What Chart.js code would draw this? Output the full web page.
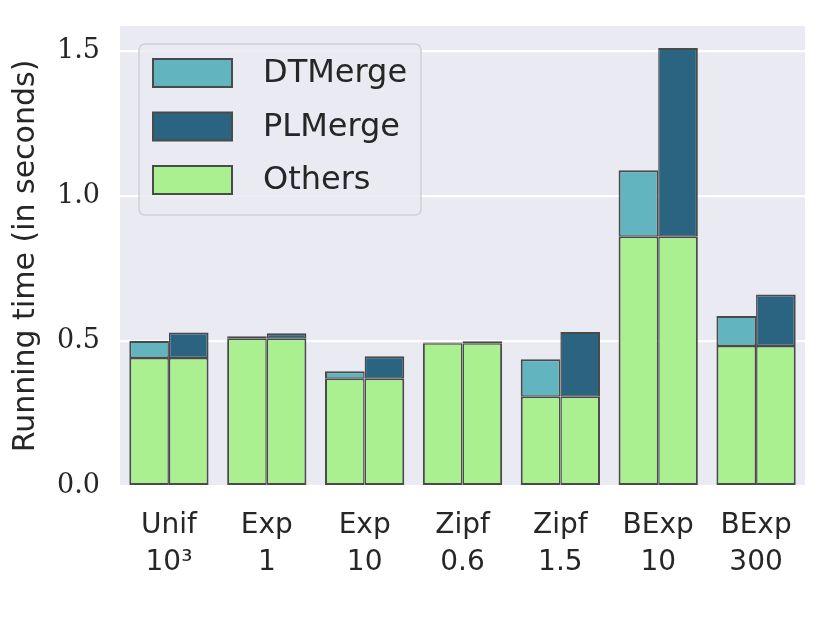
<!DOCTYPE html>
<html><head><meta charset="utf-8">
<script src="https://cdn.jsdelivr.net/npm/chart.js@4.4.1/dist/chart.umd.min.js"></script>
<style>html,body{margin:0;padding:0;background:#fff}#wrap{width:830px;height:623px}</style>
</head><body><div id="wrap"><canvas id="c" width="830" height="623"></canvas></div>
<script>
const categories = [["Unif","10³"],["Exp","1"],["Exp","10"],["Zipf","0.6"],["Zipf","1.5"],["BExp","10"],["BExp","300"]];
const others  = [0.441, 0.508, 0.370, 0.492, 0.308, 0.859, 0.483];
const dtmerge = [0.059, 0.008, 0.026, 0.003, 0.129, 0.230, 0.103];
const plmerge = [0.088, 0.019, 0.077, 0.007, 0.223, 0.651, 0.177];
const yTicks = [0.0, 0.5, 1.0, 1.5];

const C_DT = '#62b5bf', C_PL = '#2a6481', C_OT = '#aaf090', EDGE = '#4a4a4a';
const SANS = '"DejaVu Sans", sans-serif';
const SERIF = '"DejaVu Serif", serif';

const bgPlugin = {
  id: 'bg',
  beforeDraw(chart) {
    const {ctx, chartArea: a} = chart;
    ctx.save(); ctx.fillStyle = '#eaeaf2';
    ctx.fillRect(a.left, a.top, a.right - a.left, a.bottom - a.top);
    ctx.restore();
  }
};
const legendPlugin = {
  id: 'customLegend',
  afterDraw(chart) {
    const ctx = chart.ctx;
    ctx.save();
    const x = 139, y = 44, w = 282, h = 171, r = 6;
    ctx.beginPath();
    ctx.moveTo(x + r, y); ctx.arcTo(x + w, y, x + w, y + h, r); ctx.arcTo(x + w, y + h, x, y + h, r);
    ctx.arcTo(x, y + h, x, y, r); ctx.arcTo(x, y, x + w, y, r); ctx.closePath();
    ctx.fillStyle = 'rgba(234,234,242,0.85)'; ctx.fill();
    ctx.strokeStyle = '#cfcfd6'; ctx.lineWidth = 1.5; ctx.stroke();
    const items = [['DTMerge', C_DT], ['PLMerge', C_PL], ['Others', C_OT]];
    items.forEach((it, i) => {
      const cy = 73 + i * 53.5;
      ctx.fillStyle = it[1]; ctx.fillRect(153, cy - 14, 79, 28);
      ctx.strokeStyle = EDGE; ctx.lineWidth = 2; ctx.strokeRect(153, cy - 14, 79, 28);
      ctx.fillStyle = '#262626'; ctx.font = '32px ' + SANS; ctx.textBaseline = 'middle'; ctx.textAlign = 'left';
      ctx.fillText(it[0], 263, cy + 1);
    });
    ctx.restore();
  }
};

const IN = 1.5;
const common = {borderColor: EDGE, borderSkipped: false, categoryPercentage: 0.81, barPercentage: 1.0};
new Chart(document.getElementById('c'), {
  type: 'bar',
  data: {
    labels: categories,
    datasets: [
      Object.assign({label: 'Others', data: others, backgroundColor: C_OT, stack: 'a', borderWidth: {top: IN, bottom: 2, left: 2, right: IN}}, common),
      Object.assign({label: 'DTMerge', data: dtmerge, backgroundColor: C_DT, stack: 'a', borderWidth: {top: 2, bottom: IN, left: 2, right: IN}}, common),
      Object.assign({label: 'Others', data: others, backgroundColor: C_OT, stack: 'b', borderWidth: {top: IN, bottom: 2, left: IN, right: 2}}, common),
      Object.assign({label: 'PLMerge', data: plmerge, backgroundColor: C_PL, stack: 'b', borderWidth: {top: 2, bottom: IN, left: IN, right: 2}}, common)
    ]
  },
  options: {
    responsive: false, animation: false, devicePixelRatio: 1,
    layout: {padding: {top: 26, right: 25, left: 0, bottom: 0}},
    plugins: {legend: {display: false}, tooltip: {enabled: false}},
    scales: {
      x: {
        stacked: true,
        grid: {display: false, drawTicks: false},
        border: {display: false},
        ticks: {color: '#262626', font: {family: SANS, size: 28, lineHeight: 1.3}, padding: 22, maxRotation: 0, autoSkip: false},
        afterFit(s) { s.height = 137; s.paddingLeft = 0; s.paddingRight = 0; }
      },
      y: {
        stacked: true, min: 0, max: 1.586,
        grid: {color: '#ffffff', lineWidth: 2.2, drawTicks: false},
        border: {display: false},
        afterBuildTicks(s) { s.ticks = yTicks.map(v => ({value: v})); },
        ticks: {color: '#262626', font: {family: SERIF, size: 27}, padding: 20, callback: v => Number(v).toFixed(1)},
        title: {display: true, text: 'Running time (in seconds)', color: '#262626', font: {family: SANS, size: 30}, padding: {top: 8, bottom: 0}},
        afterFit(s) { s.width = 120; s.paddingTop = 0; s.paddingBottom = 0; }
      }
    }
  },
  plugins: [bgPlugin, legendPlugin]
});
</script></body></html>
